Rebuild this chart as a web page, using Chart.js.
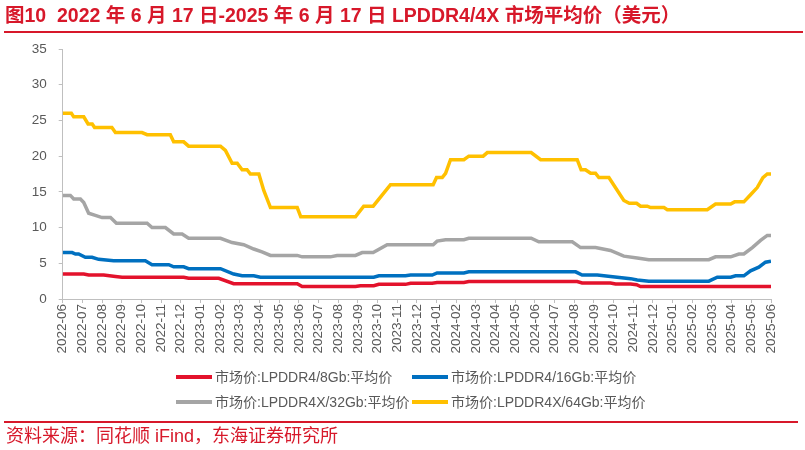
<!DOCTYPE html>
<html>
<head>
<meta charset="utf-8">
<script src="https://cdn.jsdelivr.net/npm/chart.js@4.4.1/dist/chart.umd.min.js"></script>
<style>
  html, body { margin: 0; padding: 0; background: #fff; }
  body { width: 805px; height: 450px; position: relative; overflow: hidden;
         font-family: "Liberation Sans", "Noto Sans CJK SC", sans-serif; }
  #wrap { position: absolute; left: 0; top: 0; width: 805px; height: 450px; }
  .title { position: absolute; left: 5px; top: 3px; color: #D7182A; font-weight: bold;
           font-size: 19.5px; line-height: 24px; white-space: nowrap; }
  .rule { position: absolute; left: 4px; right: 2px; height: 2px; background: #D7182A; }
  .source { position: absolute; left: 6px; top: 425px; color: #D7182A; font-size: 18px; line-height: 22px; white-space: nowrap; }
  .leg { position: absolute; font-size: 14px; color: #595959; white-space: nowrap; line-height: 16px; }
  .leg i { display: inline-block; width: 36px; height: 4px; vertical-align: middle; margin-right: 3px; position: relative; top: -1px; }
</style>
</head>
<body>
<div id="wrap"><canvas id="c"></canvas></div>
<div class="title">图10&nbsp;&nbsp;2022 年 6 月 17 日-2025 年 6 月 17 日 LPDDR4/4X 市场平均价（美元）</div>
<div class="rule" style="top:31px"></div>
<div id="legend"></div>
<div class="rule" style="top:421px; right:7px"></div>
<div class="source">资料来源：同花顺 iFind，东海证券研究所</div>
<script>
// month labels on the x axis (one tick per month)
const months = [
  '2022-06','2022-07','2022-08','2022-09','2022-10','2022-11','2022-12',
  '2023-01','2023-02','2023-03','2023-04','2023-05','2023-06','2023-07','2023-08','2023-09','2023-10','2023-11','2023-12',
  '2024-01','2024-02','2024-03','2024-04','2024-05','2024-06','2024-07','2024-08','2024-09','2024-10','2024-11','2024-12',
  '2025-01','2025-02','2025-03','2025-04','2025-05','2025-06'
];

const seriesNames = [
  '市场价:LPDDR4/8Gb:平均价',
  '市场价:LPDDR4/16Gb:平均价',
  '市场价:LPDDR4X/32Gb:平均价',
  '市场价:LPDDR4X/64Gb:平均价'
];
const seriesColors = ['#E3122C', '#0070C0', '#A5A5A5', '#FFC000'];

// [months since 2022-06, price in USD]
const lp4_8gb = [[0,3.5],[1.07,3.5],[1.32,3.35],[2.08,3.35],[2.68,3.15],[3.02,3.05],[6.15,3.05],[6.4,2.9],
  [7.93,2.9],[8.69,2.15],[11.92,2.15],[12.17,1.75],[14.88,1.75],[15.13,1.85],[15.81,1.85],[16.07,2.05],
  [17.42,2.05],[17.68,2.2],[18.78,2.2],[19.03,2.3],[20.39,2.3],[20.64,2.45],[26.15,2.45],[26.4,2.25],
  [27.84,2.25],[28.1,2.1],[28.86,2.1],[29.17,2.0],[29.37,1.75],[36,1.75]];

const lp4_16gb = [[0,6.5],[0.48,6.5],[0.65,6.3],[0.81,6.3],[1.15,5.85],[1.49,5.85],[1.83,5.55],[2.59,5.35],
  [4.2,5.35],[4.54,4.8],[5.39,4.8],[5.64,4.5],[6.15,4.5],[6.4,4.25],[8.02,4.25],[8.69,3.5],[9.12,3.25],
  [9.71,3.25],[10.05,3.05],[15.81,3.05],[16.07,3.25],[17.42,3.25],[17.68,3.35],[18.78,3.35],[19.03,3.65],
  [20.39,3.65],[20.64,3.8],[26.07,3.8],[26.4,3.35],[27.17,3.35],[27.84,3.15],[28.86,2.85],[29.2,2.65],
  [29.79,2.5],[32.84,2.5],[33.27,3.05],[33.95,3.05],[34.2,3.25],[34.62,3.25],[34.96,3.95],[35.38,4.45],
  [35.72,5.15],[36,5.3]];

const lp4x_32gb = [[0,14.5],[0.39,14.5],[0.56,14.0],[0.9,14.0],[1.07,13.5],[1.32,12.0],[1.66,11.7],[2.0,11.4],
  [2.43,11.4],[2.73,10.6],[4.29,10.6],[4.54,10.0],[5.22,10.0],[5.64,9.1],[6.07,9.1],[6.4,8.5],[8.02,8.5],
  [8.61,7.9],[9.2,7.6],[9.71,7.0],[10.13,6.6],[10.56,6.1],[11.92,6.1],[12.17,5.9],[13.6,5.9],[13.95,6.1],
  [14.88,6.1],[15.22,6.5],[15.78,6.5],[16.49,7.6],[18.83,7.6],[19.03,8.1],[19.46,8.3],[20.39,8.3],[20.64,8.5],
  [23.81,8.5],[24.2,8.0],[25.9,8.0],[26.32,7.2],[27.08,7.2],[27.84,6.8],[28.52,6.0],[29.2,5.75],[29.79,5.5],
  [32.84,5.5],[33.18,5.9],[33.95,5.9],[34.37,6.3],[34.62,6.3],[35.05,7.2],[35.47,8.2],[35.81,8.9],[36,8.9]];

const lp4x_64gb = [[0,26.0],[0.44,26.0],[0.56,25.5],[1.07,25.5],[1.29,24.5],[1.5,24.5],[1.62,24.0],[2.5,24.0],
  [2.68,23.3],[4.03,23.3],[4.29,23.0],[5.47,23.0],[5.64,22.0],[6.15,22.0],[6.4,21.4],[8.02,21.4],[8.27,20.8],
  [8.61,19.0],[8.87,19.0],[9.12,18.1],[9.37,18.1],[9.54,17.5],[9.97,17.5],[10.22,15.2],[10.56,12.8],[11.92,12.8],
  [12.1,11.5],[14.88,11.5],[15.3,13.0],[15.78,13.0],[16.66,16.0],[18.83,16.0],[19.0,17.0],[19.29,17.0],
  [19.46,17.6],[19.71,19.5],[20.39,19.5],[20.64,20.0],[21.37,20.0],[21.58,20.5],[23.81,20.5],[24.29,19.5],
  [26.15,19.5],[26.35,18.1],[26.57,18.1],[26.83,17.6],[27.08,17.6],[27.25,17.0],[27.76,17.0],[28.52,13.8],
  [28.8,13.4],[29.17,13.4],[29.37,13.0],[29.71,13.0],[29.88,12.8],[30.56,12.8],[30.73,12.5],[32.76,12.5],
  [33.18,13.3],[33.95,13.3],[34.15,13.6],[34.62,13.6],[34.96,14.6],[35.3,15.6],[35.59,17.0],[35.81,17.5],[36,17.5]];

const allSeries = [lp4_8gb, lp4_16gb, lp4x_32gb, lp4x_64gb];

const axisColor = '#BFBFBF';
const tickFont = { family: '"Liberation Sans", Arial, sans-serif', size: 13.5 };

const chart = new Chart(document.getElementById('c'), {
  type: 'line',
  data: {
    datasets: allSeries.map((s, i) => ({
      label: seriesNames[i],
      data: s.map(p => ({ x: p[0], y: p[1] })),
      borderColor: seriesColors[i],
      backgroundColor: seriesColors[i],
      borderWidth: 3.5,
      pointRadius: 0,
      tension: 0,
      order: 4 - i
    }))
  },
  options: {
    responsive: true,
    maintainAspectRatio: false,
    animation: false,
    layout: { padding: { top: 49, right: 34, left: 0, bottom: 0 } },
    plugins: { legend: { display: false }, tooltip: { enabled: false } },
    scales: {
      x: {
        type: 'linear', min: 0, max: 36,
        afterFit: s => { s.height = 151; },
        afterBuildTicks: s => { s.ticks = months.map((m, i) => ({ value: i })); },
        ticks: {
          autoSkip: false, minRotation: 90, maxRotation: 90, padding: 1,
          color: '#595959', font: tickFont,
          callback: v => months[v]
        },
        grid: { drawOnChartArea: false, color: axisColor, tickLength: 4 },
        border: { color: axisColor }
      },
      y: {
        min: 0, max: 35,
        afterFit: s => { s.width = 62.7; },
        ticks: { stepSize: 5, color: '#595959', font: tickFont, padding: 12 },
        grid: { drawOnChartArea: false, color: axisColor, tickLength: 4 },
        border: { color: axisColor }
      }
    }
  }
});

// legend in two rows of two, like the source chart
const legendPos = [[176, 369], [412, 369], [176, 394], [412, 394]];
const legendBox = document.getElementById('legend');
chart.data.datasets.forEach((ds, i) => {
  const el = document.createElement('div');
  el.className = 'leg';
  el.style.left = legendPos[i][0] + 'px';
  el.style.top = legendPos[i][1] + 'px';
  el.innerHTML = '<i style="background:' + ds.borderColor + '"></i>' + ds.label;
  legendBox.appendChild(el);
});
</script>
</body>
</html>
